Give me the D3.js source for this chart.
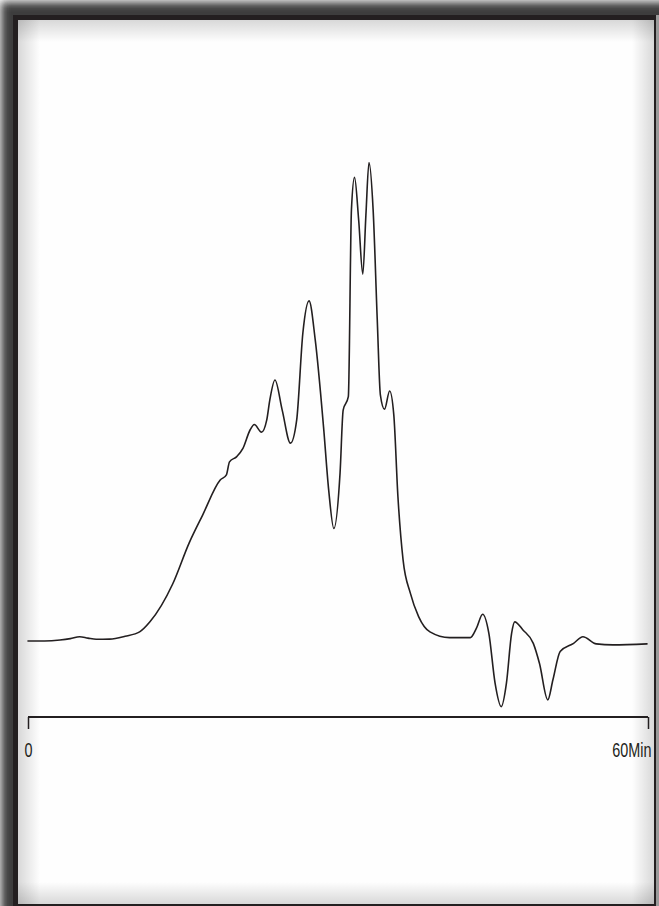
<!DOCTYPE html>
<html>
<head>
<meta charset="utf-8">
<script src="https://cdn.jsdelivr.net/npm/d3@7"></script>
<style>
html,body{margin:0;padding:0;background:#fff;}
svg{display:block;}
</style>
</head>
<body>
<svg id="chart" width="659" height="906"></svg>
<script>
// Retention time (min)
const times = [0.0, 1.6, 3.1, 4.1, 5.0, 5.8, 6.6, 7.9, 9.4, 10.8, 11.8, 14.0, 15.6, 16.9, 18.6, 19.2, 19.5, 20.2, 20.8, 21.5, 21.9, 22.6, 23.1, 23.4, 23.9, 24.6, 25.4, 26.0, 26.6, 27.2, 27.8, 28.6, 29.1, 29.6, 30.2, 30.5, 31.0, 31.3, 31.6, 32.0, 32.4, 32.7, 33.0, 33.4, 33.8, 34.1, 34.5, 35.0, 35.4, 35.8, 36.3, 37.0, 37.8, 38.9, 40.8, 42.8, 43.4, 44.0, 44.6, 45.2, 45.8, 46.3, 46.8, 47.1, 47.9, 48.9, 49.5, 50.3, 50.8, 51.5, 52.8, 53.7, 55.0, 56.6, 59.9];
// Detector signal (relative units)
const signal = [0, 0, 0.2, 0.5, 0.9, 0.6, 0.35, 0.4, 1.0, 1.9, 4.0, 11.9, 20.5, 26.3, 33.6, 34.7, 37.4, 38.5, 40.2, 44.1, 45.2, 43.6, 46.1, 50.3, 54.5, 48.2, 41.3, 46.1, 64.3, 71.0, 62.8, 44.7, 31.5, 23.5, 35.1, 48.2, 51.0, 90.0, 96.8, 87.9, 76.6, 88.9, 99.9, 90.0, 67.0, 51.4, 48.4, 52.2, 47.2, 30.1, 16.9, 10.0, 5.1, 1.9, 0.7, 0.7, 2.7, 5.6, 1.6, -8.8, -13.7, -8.8, 1.6, 4.0, 2.3, -0.5, -4.7, -12.3, -8.1, -2.2, -0.5, 0.9, -0.6, -0.8, -0.6];
const tickValues = [0, 60];
const tickLabels = ["0", "60Min"];

const svg = d3.select("#chart");
const defs = svg.append("defs");
const ink = "#231f20";

// outer blurred frame shadow
const blur = defs.append("filter").attr("id","blur")
  .attr("x","-10%").attr("y","-10%").attr("width","120%").attr("height","120%");
blur.append("feGaussianBlur").attr("stdDeviation", 4.5);
svg.append("rect").attr("x",0).attr("y",0).attr("width",659).attr("height",906).attr("fill","#fff");
svg.append("rect").attr("x",1).attr("y",2).attr("width",720).attr("height",960)
  .attr("fill","#3c3c3c").attr("filter","url(#blur)");

// dark border
svg.append("rect").attr("x",13).attr("y",15).attr("width",644).attr("height",891).attr("fill",ink);
// panel
svg.append("rect").attr("x",18).attr("y",20).attr("width",636).attr("height",884).attr("fill","#fefefe");
// right sliver beyond border
svg.append("rect").attr("x",656).attr("y",15).attr("width",3).attr("height",891).attr("fill","#9a9a9a");

// inner shadows
function grad(id, x1,y1,x2,y2){
  const g = defs.append("linearGradient").attr("id",id)
    .attr("x1",x1).attr("y1",y1).attr("x2",x2).attr("y2",y2);
  g.append("stop").attr("offset","0%").attr("stop-color","#000").attr("stop-opacity",0.15);
  g.append("stop").attr("offset","100%").attr("stop-color","#000").attr("stop-opacity",0);
}
grad("gT","0","0","0","1"); grad("gB","0","1","0","0");
grad("gL","0","0","1","0"); grad("gR","1","0","0","0");
svg.append("rect").attr("x",18).attr("y",20).attr("width",636).attr("height",22).attr("fill","url(#gT)");
svg.append("rect").attr("x",18).attr("y",882).attr("width",636).attr("height",22).attr("fill","url(#gB)");
svg.append("rect").attr("x",18).attr("y",20).attr("width",22).attr("height",884).attr("fill","url(#gL)");
svg.append("rect").attr("x",632).attr("y",20).attr("width",22).attr("height",884).attr("fill","url(#gR)");

// scales
const x = d3.scaleLinear().domain([0,60]).range([28,648]);
const y = d3.scaleLinear().domain([0,100]).range([641,162]);

// axis
const axisY = 717;
const axis = d3.axisBottom(x).tickValues(tickValues).tickSize(12).tickSizeOuter(0)
  .tickFormat((d,i)=>tickLabels[i]);
const ag = svg.append("g").attr("transform",`translate(0,${axisY})`).call(axis);
ag.select(".domain").attr("stroke",ink).attr("stroke-width",2).attr("d","M28,0H648");
ag.selectAll(".tick line").attr("stroke",ink).attr("stroke-width",1.5);
ag.selectAll(".tick text")
  .attr("fill",ink)
  .attr("font-family","'Liberation Sans Narrow', 'Liberation Sans', sans-serif")
  .attr("font-size",20)
  .attr("dy",0)
  .attr("y",40)
  .attr("text-anchor",(d,i)=> i===tickValues.length-1 ? "end" : "middle")
  .attr("x",(d,i)=> i===tickValues.length-1 ? 3/0.72 : 0)
  .attr("transform","scale(0.72,1)");

// trace
const line = d3.line().x((d,i)=>x(times[i])).y((d,i)=>y(signal[i])).curve(d3.curveMonotoneX);
svg.append("path").datum(signal).attr("d",line)
  .attr("fill","none").attr("stroke",ink).attr("stroke-width",1.6)
  .attr("stroke-linejoin","round").attr("stroke-linecap","round");
</script>
</body>
</html>
